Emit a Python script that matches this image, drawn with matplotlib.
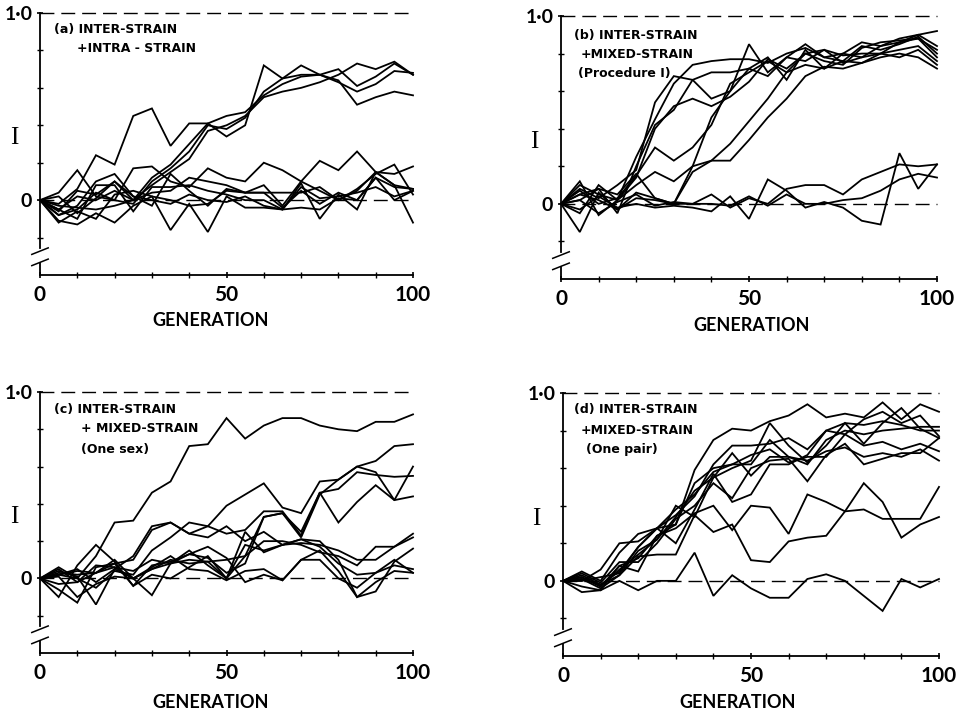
import matplotlib
matplotlib.use("Agg")
import matplotlib.pyplot as plt
import matplotlib.transforms as mtransforms
import numpy as np

generations = list(range(0, 101, 5))

# Panel (a): INTER-STRAIN + INTRA-STRAIN
panel_a = [
    [0, -0.02, 0.06, 0.24, 0.19, 0.45, 0.49, 0.29, 0.41, 0.41, 0.34, 0.40, 0.72, 0.65, 0.72, 0.67, 0.70, 0.61, 0.66, 0.73, 0.67],
    [0, -0.05, 0.02, 0.00, 0.05, 0.00, 0.08, 0.15, 0.22, 0.37, 0.40, 0.45, 0.55, 0.58, 0.60, 0.63, 0.67, 0.73, 0.70, 0.74, 0.67],
    [0, -0.08, -0.05, 0.04, 0.00, -0.02, 0.10, 0.17, 0.26, 0.40, 0.38, 0.44, 0.58, 0.65, 0.67, 0.67, 0.63, 0.58, 0.62, 0.69, 0.68],
    [0, -0.06, 0.05, 0.03, 0.10, 0.00, 0.12, 0.19, 0.30, 0.41, 0.45, 0.47, 0.56, 0.62, 0.66, 0.67, 0.64, 0.51, 0.55, 0.58, 0.56],
    [0, 0.04, 0.16, 0.02, 0.00, 0.17, 0.18, 0.10, 0.07, 0.17, 0.12, 0.10, 0.20, 0.16, 0.10, 0.21, 0.16, 0.26, 0.15, 0.14, 0.18],
    [0, -0.11, -0.13, -0.07, -0.12, -0.03, 0.02, -0.16, -0.02, -0.17, 0.02, -0.04, -0.04, -0.05, 0.09, -0.10, 0.03, -0.05, 0.15, 0.08, -0.12],
    [0, -0.08, -0.03, 0.10, 0.14, 0.02, -0.03, 0.14, 0.05, -0.03, 0.06, 0.04, 0.04, 0.04, 0.04, 0.07, 0.00, 0.05, 0.15, 0.08, 0.06],
    [0, -0.05, -0.10, 0.08, 0.08, -0.06, 0.07, 0.07, 0.08, 0.05, 0.03, 0.00, 0.00, -0.05, -0.04, -0.05, 0.01, 0.00, 0.12, 0.07, 0.06],
    [0, 0.02, -0.07, 0.01, 0.10, 0.02, 0.00, -0.02, 0.03, 0.00, -0.01, 0.02, -0.03, -0.05, 0.07, 0.01, 0.02, 0.04, 0.07, 0.02, 0.05],
    [0, -0.12, -0.06, -0.10, 0.03, 0.05, 0.02, 0.00, -0.03, -0.02, 0.05, 0.04, 0.04, -0.04, 0.05, -0.02, 0.04, 0.00, 0.12, 0.00, 0.05],
    [0, -0.03, -0.04, -0.05, -0.03, 0.00, 0.04, 0.05, 0.12, 0.10, 0.08, 0.04, 0.08, -0.03, 0.10, 0.05, 0.00, 0.06, 0.14, 0.19, 0.03],
]

# Panel (b): INTER-STRAIN + MIXED-STRAIN (Procedure I)
panel_b = [
    [0, 0.08, 0.03, 0.10, 0.18, 0.54, 0.68, 0.66, 0.56, 0.60, 0.85, 0.70, 0.78, 0.85, 0.78, 0.80, 0.86, 0.84, 0.88, 0.90, 0.92],
    [0, 0.10, 0.05, 0.02, 0.25, 0.45, 0.64, 0.74, 0.76, 0.77, 0.77, 0.75, 0.80, 0.83, 0.78, 0.76, 0.84, 0.82, 0.85, 0.89, 0.80],
    [0, 0.05, 0.08, -0.05, 0.20, 0.42, 0.50, 0.66, 0.70, 0.70, 0.72, 0.78, 0.66, 0.82, 0.72, 0.80, 0.78, 0.84, 0.86, 0.90, 0.84],
    [0, -0.05, 0.10, 0.02, 0.14, 0.40, 0.52, 0.56, 0.52, 0.57, 0.65, 0.77, 0.72, 0.80, 0.76, 0.74, 0.83, 0.86, 0.87, 0.88, 0.78],
    [0, 0.07, 0.00, 0.03, 0.15, 0.30, 0.23, 0.30, 0.42, 0.64, 0.70, 0.76, 0.70, 0.74, 0.72, 0.76, 0.75, 0.80, 0.82, 0.84, 0.76],
    [0, 0.12, -0.06, 0.02, 0.10, 0.17, 0.12, 0.20, 0.46, 0.60, 0.72, 0.68, 0.78, 0.76, 0.82, 0.75, 0.78, 0.80, 0.86, 0.88, 0.82],
    [0, -0.15, 0.06, -0.03, 0.06, 0.03, 0.00, 0.17, 0.23, 0.32, 0.44, 0.56, 0.70, 0.80, 0.82, 0.79, 0.80, 0.80, 0.78, 0.82, 0.74],
    [0, 0.02, 0.08, 0.05, 0.16, 0.03, 0.00, 0.20, 0.23, 0.23, 0.34, 0.46, 0.56, 0.68, 0.73, 0.72, 0.75, 0.78, 0.80, 0.78, 0.72],
    [0, 0.05, 0.02, -0.03, 0.03, 0.02, 0.00, 0.00, 0.05, -0.02, 0.03, 0.00, 0.08, 0.10, 0.10, 0.05, 0.13, 0.17, 0.21, 0.20, 0.21],
    [0, -0.03, 0.04, -0.02, 0.00, -0.02, -0.01, -0.02, -0.04, 0.04, -0.08, 0.13, 0.07, -0.02, 0.01, -0.02, -0.09, -0.11, 0.27, 0.08, 0.21],
    [0, 0.02, -0.05, 0.01, 0.05, -0.01, 0.01, 0.00, 0.00, -0.01, 0.04, -0.01, 0.05, 0.00, 0.00, 0.02, 0.03, 0.07, 0.13, 0.16, 0.14],
]

# Panel (c): INTER-STRAIN + MIXED-STRAIN (One sex)
panel_c = [
    [0, 0.02, 0.00, 0.12, 0.30, 0.31, 0.46, 0.52, 0.71, 0.72, 0.86, 0.75, 0.82, 0.86, 0.86, 0.82, 0.80, 0.79, 0.84, 0.84, 0.88],
    [0, 0.02, 0.05, -0.02, 0.05, 0.12, 0.28, 0.30, 0.24, 0.28, 0.39, 0.45, 0.51, 0.38, 0.35, 0.52, 0.53, 0.60, 0.63, 0.71, 0.72],
    [0, -0.03, -0.02, 0.07, 0.06, 0.04, 0.10, 0.08, 0.13, 0.11, 0.03, 0.08, 0.33, 0.35, 0.22, 0.45, 0.53, 0.60, 0.57, 0.42, 0.60],
    [0, 0.05, -0.02, 0.03, 0.10, 0.00, 0.05, 0.10, 0.08, 0.09, 0.00, 0.12, 0.33, 0.35, 0.25, 0.46, 0.48, 0.57, 0.555, 0.545, 0.55],
    [0, 0.06, 0.00, -0.05, 0.04, 0.02, 0.15, 0.22, 0.30, 0.28, 0.24, 0.26, 0.36, 0.36, 0.23, 0.46, 0.30, 0.41, 0.50, 0.42, 0.44],
    [0, 0.02, 0.04, 0.03, 0.06, 0.00, 0.05, 0.08, 0.10, 0.09, 0.10, 0.12, 0.20, 0.20, 0.18, 0.14, 0.12, 0.07, 0.17, 0.17, 0.24],
    [0, -0.06, -0.13, 0.06, 0.08, -0.04, 0.02, 0.00, 0.06, 0.12, 0.00, 0.18, 0.15, 0.18, 0.21, 0.20, 0.10, -0.10, -0.07, 0.09, 0.16],
    [0, 0.04, 0.01, -0.14, 0.05, 0.00, 0.06, 0.12, 0.05, 0.04, -0.01, 0.04, 0.05, -0.01, 0.10, 0.10, 0.00, -0.05, 0.03, 0.10, 0.03],
    [0, -0.10, 0.07, 0.18, 0.09, -0.04, 0.07, 0.09, 0.13, 0.17, 0.11, -0.02, 0.02, -0.01, 0.10, 0.15, 0.04, -0.10, -0.02, 0.04, 0.03],
    [0, 0.01, -0.10, -0.03, 0.01, 0.00, -0.09, 0.08, 0.15, 0.07, 0.00, 0.25, 0.14, 0.18, 0.21, 0.17, 0.08, 0.02, 0.03, 0.07, 0.05],
    [0, 0.03, 0.02, 0.03, 0.08, 0.10, 0.26, 0.30, 0.24, 0.22, 0.28, 0.20, 0.25, 0.18, 0.19, 0.18, 0.15, 0.10, 0.10, 0.17, 0.22],
]

# Panel (d): INTER-STRAIN + MIXED-STRAIN (One pair)
panel_d = [
    [0, 0.05, 0.00, 0.15, 0.25, 0.28, 0.30, 0.59, 0.75, 0.81, 0.80, 0.85, 0.88, 0.94, 0.87, 0.89, 0.87, 0.95, 0.86, 0.94, 0.90],
    [0, 0.03, -0.02, 0.05, 0.18, 0.28, 0.35, 0.45, 0.62, 0.72, 0.72, 0.73, 0.76, 0.70, 0.80, 0.84, 0.83, 0.85, 0.83, 0.80, 0.80],
    [0, 0.02, -0.03, 0.06, 0.14, 0.22, 0.34, 0.48, 0.55, 0.60, 0.64, 0.84, 0.72, 0.63, 0.72, 0.84, 0.73, 0.84, 0.92, 0.81, 0.76],
    [0, -0.03, -0.05, 0.08, 0.12, 0.24, 0.30, 0.52, 0.60, 0.62, 0.62, 0.75, 0.66, 0.62, 0.75, 0.80, 0.78, 0.80, 0.81, 0.82, 0.82],
    [0, 0.00, 0.02, 0.04, 0.18, 0.28, 0.38, 0.46, 0.58, 0.62, 0.67, 0.70, 0.63, 0.66, 0.66, 0.78, 0.72, 0.74, 0.70, 0.73, 0.69],
    [0, 0.01, -0.04, 0.03, 0.16, 0.22, 0.40, 0.34, 0.55, 0.68, 0.56, 0.66, 0.66, 0.64, 0.69, 0.71, 0.66, 0.68, 0.66, 0.70, 0.64],
    [0, 0.04, -0.01, 0.10, 0.10, 0.20, 0.33, 0.40, 0.52, 0.44, 0.60, 0.64, 0.65, 0.53, 0.67, 0.73, 0.62, 0.65, 0.68, 0.68, 0.76],
    [0, 0.02, -0.03, 0.08, 0.05, 0.24, 0.28, 0.36, 0.40, 0.27, 0.40, 0.39, 0.25, 0.46, 0.42, 0.37, 0.38, 0.33, 0.33, 0.33, 0.50],
    [0, 0.01, -0.02, 0.03, 0.13, 0.14, 0.14, 0.35, 0.26, 0.30, 0.11, 0.10, 0.21, 0.23, 0.24, 0.37, 0.52, 0.42, 0.23, 0.30, 0.34],
    [0, -0.06, -0.05, 0.00, -0.05, 0.00, 0.00, 0.15, -0.08, 0.03, -0.04, -0.09, -0.09, 0.01, 0.035, 0.00, -0.08, -0.16, 0.01, -0.035, 0.01],
    [0, 0.00, 0.06, 0.20, 0.21, 0.28, 0.20, 0.38, 0.57, 0.42, 0.46, 0.62, 0.62, 0.67, 0.80, 0.78, 0.86, 0.90, 0.84, 0.88, 0.77],
]

titles = {
    "a": ["(a) INTER-STRAIN", "+INTRA - STRAIN"],
    "b": ["(b) INTER-STRAIN", "+MIXED-STRAIN", "(Procedure I)"],
    "c": ["(c) INTER-STRAIN", "+ MIXED-STRAIN", "(One sex)"],
    "d": ["(d) INTER-STRAIN", "+MIXED-STRAIN", "(One pair)"],
}
x_label = "GENERATION"
y_label = "I"

W, H = 960, 713
fig = plt.figure(figsize=(9.6, 7.13), dpi=100)
SANS = ["Lato", "DejaVu Sans"]


def px_axes(left, top, right, bottom):
    return [left / W, 1 - bottom / H, (right - left) / W, (bottom - top) / H]


def ftext(x, y, s, **kw):
    fig.text(x / W, 1 - y / H, s, **kw)


layout = {
    # left, top(1.0), right, bottom(-0.4)
    "a": (40, 13, 413, 275),
    "b": (561, 16, 937, 279),
    "c": (40, 392, 413, 653),
    "d": (563, 393, 939, 656),
}
data = {"a": panel_a, "b": panel_b, "c": panel_c, "d": panel_d}
title_pos = {
    "a": [(54, 29), (77, 49)],
    "b": [(574, 35), (581, 54), (578, 73)],
    "c": [(54, 409), (81, 429), (81, 450)],
    "d": [(574, 410), (581, 430), (586, 450)],
}
xlabel_pos = {"a": (211, 321), "b": (752, 326), "c": (211, 702), "d": (738, 702)}

for key in ["a", "b", "c", "d"]:
    l, t, r, b = layout[key]
    ax = fig.add_axes(px_axes(l, t, r, b))
    ax.set_xlim(0, 100)
    ax.set_ylim(-0.4, 1.0)
    for series in data[key]:
        ax.plot(generations, series, color="black", lw=1.3, clip_on=False,
                solid_joinstyle="miter")
    for yv in (0.0, 1.0):
        ax.plot([0, 100], [yv, yv], color="black", lw=1.0, dashes=(10, 5),
                clip_on=False)
    for s in ["top", "right"]:
        ax.spines[s].set_visible(False)
    ax.spines["left"].set_bounds(-0.255, 1.0)
    ax.spines["left"].set_linewidth(1.3)
    ax.spines["bottom"].set_linewidth(1.3)
    ax.plot([0, 0], [-0.335, -0.4], color="black", lw=1.3, clip_on=False)
    trans = mtransforms.blended_transform_factory(ax.transAxes, ax.transData)
    for yb in (-0.265, -0.325):
        ax.plot([-0.022, 0.022], [yb - 0.025, yb + 0.01], color="black",
                lw=1.1, transform=trans, clip_on=False)
    ax.set_xticks([0, 50, 100])
    ax.set_xticklabels(["0", "50", "100"], fontsize=15, family=SANS,
                       fontweight="bold")
    ax.set_xticks(range(0, 101, 10), minor=True)
    ax.set_yticks([0, 1.0])
    ax.set_yticklabels(["0", "1·0"], fontsize=14, family=SANS,
                       fontweight="bold")
    ax.set_yticks([-0.2, 0.2, 0.4, 0.6, 0.8], minor=True)
    ax.tick_params(axis="both", which="major", direction="inout", length=5,
                   width=1.2, pad=4)
    ax.tick_params(axis="both", which="minor", direction="inout", length=4,
                   width=1.0)
    ax.tick_params(axis="x", which="major", pad=5)
    ax.tick_params(axis="y", which="major", pad=3)
    ax.text(-0.07, 0.33, y_label, transform=trans, fontsize=18,
            family=["Liberation Serif", "DejaVu Serif"], ha="center",
            va="center")
    for (tx, ty), line in zip(title_pos[key], titles[key]):
        ftext(tx, ty, line, fontsize=9, family=["DejaVu Sans"],
              fontweight="bold", ha="left", va="center")
    gx, gy = xlabel_pos[key]
    ftext(gx, gy, x_label, fontsize=13, family=SANS, fontweight="bold",
          ha="center", va="center")

fig.savefig("out.png", dpi=100, facecolor="white")
